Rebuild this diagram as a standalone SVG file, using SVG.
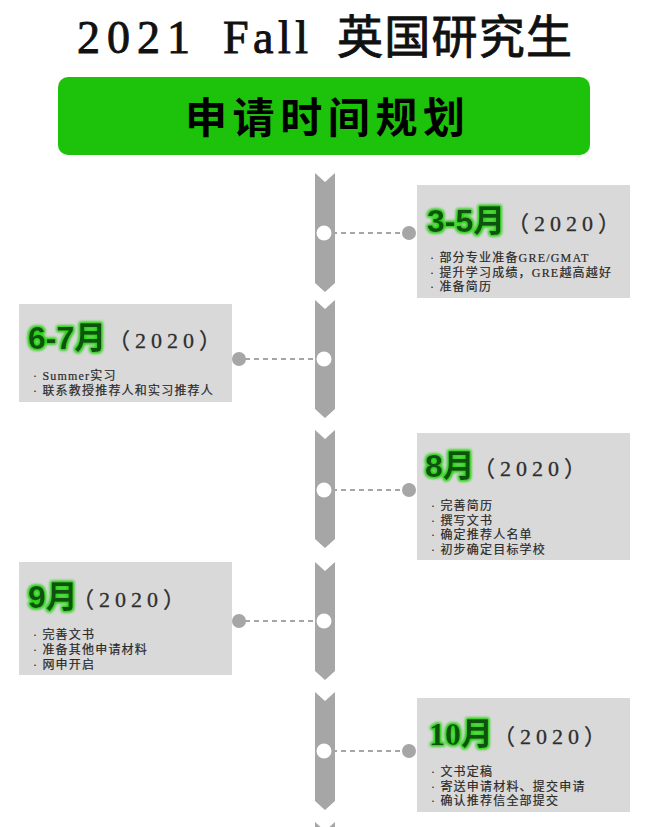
<svg xmlns="http://www.w3.org/2000/svg" width="648" height="827" viewBox="0 0 648 827">
<defs>
<style>
.seg{fill:#a6a6a6}
.box{fill:#d9d9d9}
.dash{stroke:#a6a6a6;stroke-width:2;stroke-dasharray:5 4;fill:none}
.wdot{fill:#ffffff}
.gdot{fill:#a6a6a6}
.mon{font-family:"Liberation Sans","Noto Sans CJK SC",sans-serif;font-weight:bold;font-size:32px;fill:#0e5209}
.mons{font-family:"Liberation Serif","Noto Sans CJK SC",serif;font-weight:bold;font-size:32px;fill:#0e5209}
.yr{font-family:"Liberation Serif","Noto Sans CJK SC",serif;font-size:22px;fill:#2e2e2e;letter-spacing:5px;stroke:#2e2e2e;stroke-width:0.3px}
.bl{font-family:"Liberation Serif","Noto Sans CJK SC",serif;font-size:12px;fill:#2a2a2a;letter-spacing:1.2px;stroke:#2a2a2a;stroke-width:0.2px}
.ttl{font-family:"Liberation Serif","Noto Sans CJK SC",serif;font-size:46px;fill:#111111;stroke:#111111;stroke-width:0.9px}
</style>
<filter id="glow" x="-20%" y="-40%" width="140%" height="180%">
<feMorphology in="SourceAlpha" operator="dilate" radius="1" result="d"/>
<feGaussianBlur in="d" stdDeviation="1.4" result="b"/>
<feFlood flood-color="#2bd11a"/>
<feComposite in2="b" operator="in" result="g"/>
<feMerge><feMergeNode in="g"/><feMergeNode in="g"/><feMergeNode in="SourceGraphic"/></feMerge>
</filter>
</defs>
<rect width="648" height="827" fill="#ffffff"/>

<g id="title">
<text class="ttl" x="77" y="53" textLength="113" lengthAdjust="spacing">2021</text>
<text class="ttl" x="223" y="53" textLength="85" lengthAdjust="spacing">Fall</text>
<text class="ttl" x="337" y="53" font-size="42" textLength="235" lengthAdjust="spacing">英国研究生</text>
</g>

<g id="header">
<rect x="58" y="77" width="532" height="78" rx="10" fill="#1dc20b"/>
<text x="185" y="133" font-family="'Noto Sans CJK SC',sans-serif" font-weight="bold" font-size="42" fill="#000000" textLength="280" lengthAdjust="spacing">申请时间规划</text>
</g>

<g id="timeline">
<polygon class="seg" points="315,173 325,182 335,173 335,283 325,292 315,283"/>
<polygon class="seg" points="315,300 325,309 335,300 335,409 325,418 315,409"/>
<polygon class="seg" points="315,430 325,439 335,430 335,539 325,548 315,539"/>
<polygon class="seg" points="315,562 325,571 335,562 335,671 325,680 315,671"/>
<polygon class="seg" points="315,692 325,701 335,692 335,801 325,810 315,801"/>
<polygon class="seg" points="315,822 325,831 335,822 335,840 315,840"/>
</g>

<g id="connectors">
<line class="dash" x1="332" y1="233" x2="403" y2="233"/>
<line class="dash" x1="245" y1="359" x2="318" y2="359"/>
<line class="dash" x1="332" y1="490" x2="403" y2="490"/>
<line class="dash" x1="245" y1="621" x2="318" y2="621"/>
<line class="dash" x1="332" y1="751" x2="403" y2="751"/>
</g>

<g id="node-3-5">
<rect class="box" x="417" y="185" width="213" height="113"/>
<circle class="gdot" cx="409" cy="233" r="7"/>
<circle class="wdot" cx="324" cy="233" r="7.5"/>
<text class="mon" x="427" y="232" filter="url(#glow)">3-5月</text>
<text class="yr" x="507" y="231">（2020）</text>
<text class="bl" x="430" y="262">· 部分专业准备GRE/GMAT</text>
<text class="bl" x="430" y="276.5">· 提升学习成绩，GRE越高越好</text>
<text class="bl" x="430" y="291">· 准备简历</text>
</g>

<g id="node-6-7">
<rect class="box" x="19" y="304" width="213" height="98"/>
<circle class="gdot" cx="239" cy="359" r="7"/>
<circle class="wdot" cx="324" cy="359" r="7.5"/>
<text class="mon" x="28" y="349" filter="url(#glow)">6-7月</text>
<text class="yr" x="108" y="348">（2020）</text>
<text class="bl" x="33" y="380">· Summer实习</text>
<text class="bl" x="33" y="395">· 联系教授推荐人和实习推荐人</text>
</g>

<g id="node-8">
<rect class="box" x="417" y="433" width="213" height="127"/>
<circle class="gdot" cx="409" cy="490" r="7"/>
<circle class="wdot" cx="324" cy="490" r="7.5"/>
<text class="mon" x="425" y="477" filter="url(#glow)">8月</text>
<text class="yr" x="473" y="476">（2020）</text>
<text class="bl" x="431" y="510">· 完善简历</text>
<text class="bl" x="431" y="524.5">· 撰写文书</text>
<text class="bl" x="431" y="539">· 确定推荐人名单</text>
<text class="bl" x="431" y="553.5">· 初步确定目标学校</text>
</g>

<g id="node-9">
<rect class="box" x="19" y="562" width="213" height="113"/>
<circle class="gdot" cx="239" cy="621" r="7"/>
<circle class="wdot" cx="324" cy="621" r="7.5"/>
<text class="mon" x="28" y="608" filter="url(#glow)">9月</text>
<text class="yr" x="72" y="607">（2020）</text>
<text class="bl" x="33" y="639">· 完善文书</text>
<text class="bl" x="33" y="654">· 准备其他申请材料</text>
<text class="bl" x="33" y="669">· 网申开启</text>
</g>

<g id="node-10">
<rect class="box" x="417" y="698" width="213" height="114"/>
<circle class="gdot" cx="409" cy="751" r="7"/>
<circle class="wdot" cx="324" cy="751" r="7.5"/>
<text class="mons" x="429" y="745" filter="url(#glow)">10月</text>
<text class="yr" x="493" y="744">（2020）</text>
<text class="bl" x="431" y="776">· 文书定稿</text>
<text class="bl" x="431" y="790.5">· 寄送申请材料、提交申请</text>
<text class="bl" x="431" y="805">· 确认推荐信全部提交</text>
</g>
</svg>
